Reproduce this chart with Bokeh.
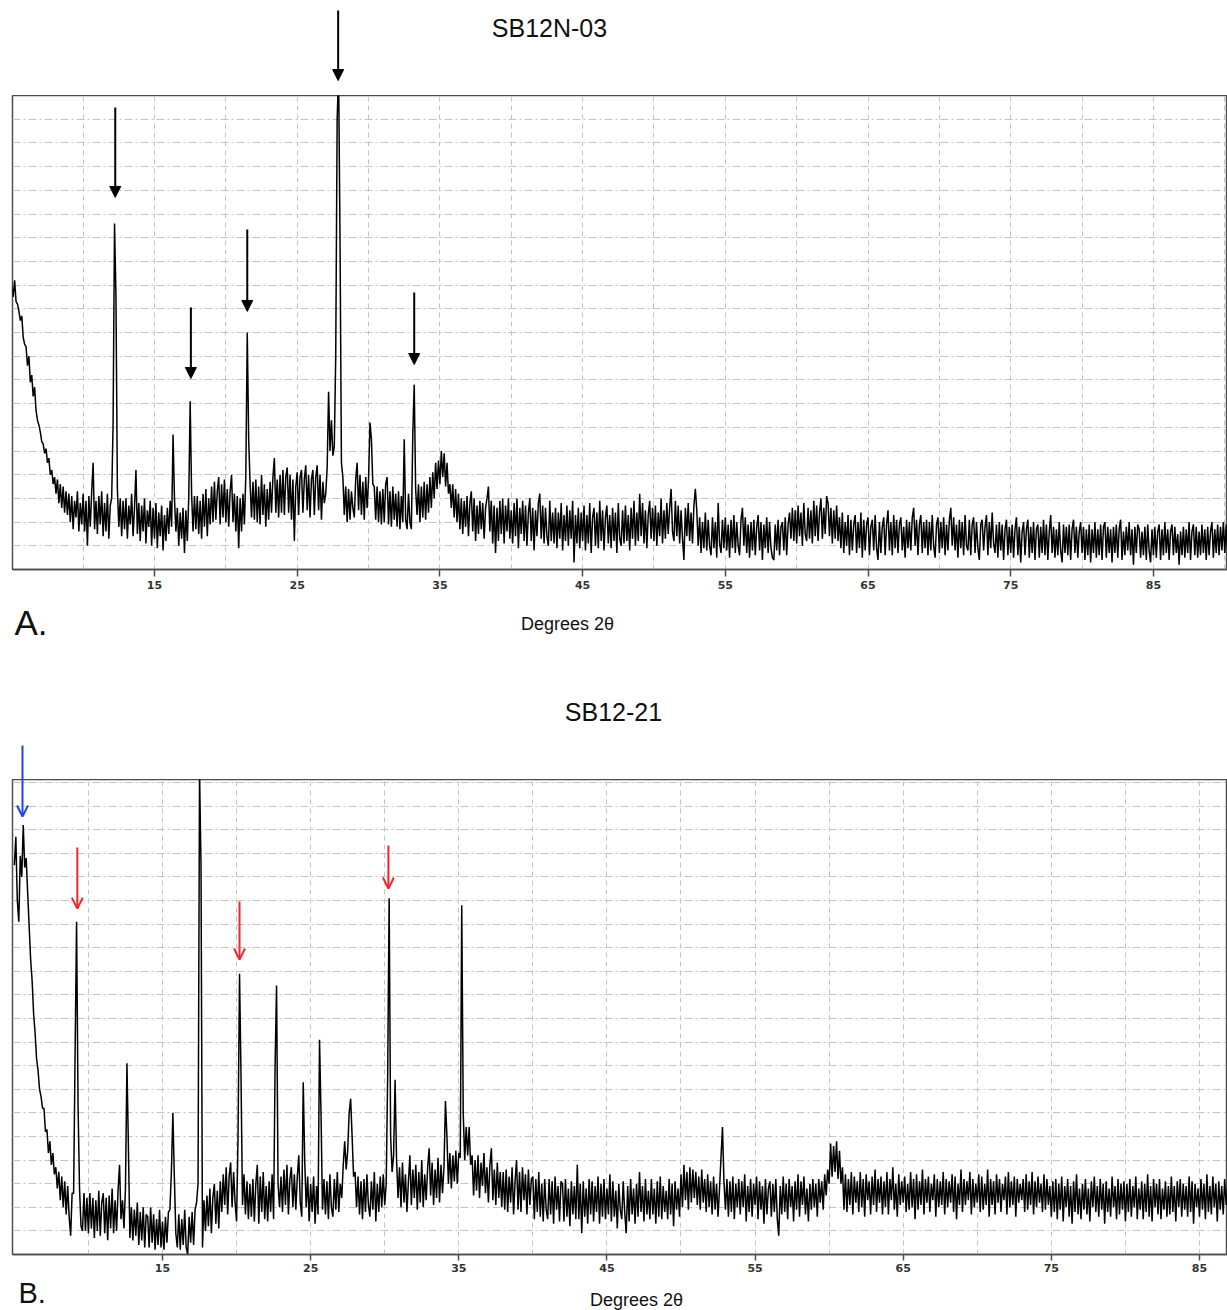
from bokeh.plotting import figure
from bokeh.models import FixedTicker, Label, Arrow, NormalHead, OpenHead, Range1d, ColumnDataSource
from bokeh.layouts import column
from bokeh.embed import file_html
from bokeh.resources import INLINE

# ---------------- DATA ----------------
# Step-scan XRD patterns, intensity in grid units, 0.1 degree steps
A_START = 5.0
B_START = 5.0
STEP = 0.1

title_a = "SB12N-03"
title_b = "SB12-21"
xlabel = "Degrees 2\u03b8"
tick_values = [15, 25, 35, 45, 55, 65, 75, 85]
tick_labels = ["15", "25", "35", "45", "55", "65", "75", "85"]

counts_a = [
    12.0, 11.5, 12.2, 11.3, 11.2, 10.9, 10.5, 10.7, 9.8, 9.5,   # 5
    9.4, 8.6, 9.0, 7.9, 8.2, 7.3, 7.7, 6.7, 6.3, 6.1,           # 6
    5.8, 5.4, 5.3, 4.9, 5.1, 4.5, 4.7, 4.0, 4.2, 3.6,           # 7
    3.9, 3.2, 3.8, 2.8, 3.6, 2.6, 3.5, 2.4, 3.3, 2.3,           # 8
    3.2, 2.0, 3.1, 1.7, 2.9, 2.2, 3.3, 1.6, 2.8, 1.9,           # 9
    3.2, 1.6, 2.9, 1.0, 3.1, 1.8, 3.3, 4.5, 1.7, 2.9,           # 10
    1.5, 3.1, 1.9, 3.3, 1.4, 2.8, 1.6, 3.2, 1.3, 2.7,           # 11
    3.0, 6.2, 14.6, 11.5, 3.4, 1.8, 3.0, 1.4, 2.9, 1.7,         # 12
    3.0, 1.3, 2.7, 1.9, 3.2, 1.4, 2.6, 4.2, 1.5, 2.8,           # 13
    1.2, 2.7, 1.6, 3.0, 1.1, 2.5, 1.8, 2.9, 1.0, 2.6,           # 14
    1.3, 2.8, 0.9, 2.4, 1.4, 2.7, 0.8, 2.3, 1.2, 2.6,           # 15
    1.5, 2.9, 1.8, 5.7, 3.0, 1.6, 2.6, 1.0, 2.4, 1.3,           # 16
    2.6, 0.7, 2.5, 1.2, 3.0, 7.1, 3.2, 1.6, 3.1, 1.7,           # 17
    3.1, 1.5, 2.9, 1.3, 3.2, 1.8, 3.4, 1.4, 3.0, 1.9,           # 18
    3.5, 2.0, 3.7, 2.1, 3.3, 3.9, 1.9, 3.6, 2.2, 3.8,           # 19
    2.0, 3.4, 1.8, 3.3, 4.0, 2.0, 3.2, 1.6, 3.1, 0.9,           # 20
    3.0, 1.6, 3.2, 1.9, 4.0, 10.0, 5.5, 3.6, 2.2, 3.7,          # 21
    2.1, 3.8, 2.0, 3.5, 1.9, 4.0, 2.3, 3.6, 1.8, 3.4,           # 22
    2.1, 3.7, 2.4, 3.9, 4.7, 2.4, 3.8, 2.2, 4.0, 2.4,           # 23
    4.2, 2.3, 3.9, 4.3, 2.4, 4.0, 2.1, 3.8, 1.2, 3.5,           # 24
    4.1, 2.3, 3.9, 4.2, 2.4, 3.8, 4.4, 2.5, 4.0, 2.2,           # 25
    3.8, 4.2, 2.3, 3.9, 4.4, 2.5, 4.0, 2.1, 3.7, 2.8,           # 26
    3.2, 4.3, 7.5, 5.0, 6.3, 4.8, 5.2, 9.0, 19.0, 21.0,         # 27
    14.0, 4.5, 3.9, 2.3, 3.5, 2.0, 3.4, 2.1, 3.3, 2.6,          # 28
    2.2, 3.8, 4.5, 2.5, 4.0, 2.3, 3.7, 2.1, 3.9, 2.6,           # 29
    3.8, 6.2, 5.5, 3.6, 3.5, 2.1, 3.5, 2.0, 3.3, 1.9,           # 30
    3.4, 2.0, 3.6, 3.9, 1.9, 3.3, 1.8, 3.5, 2.1, 3.2,           # 31
    1.8, 3.3, 1.7, 3.1, 2.0, 5.5, 2.1, 1.7, 3.2, 2.0,           # 32
    1.7, 5.7, 7.8, 3.4, 2.3, 3.6, 2.0, 3.5, 2.2, 3.7,           # 33
    2.1, 3.6, 2.4, 3.9, 2.6, 4.1, 3.0, 4.5, 3.4, 4.6,           # 34
    3.6, 5.0, 3.9, 4.9, 3.5, 4.5, 3.2, 3.6, 2.6, 3.6,           # 35
    2.2, 3.4, 2.0, 3.2, 1.7, 3.0, 1.5, 2.9, 1.8, 3.1,           # 36
    1.4, 2.8, 3.3, 1.6, 3.0, 1.2, 2.7, 1.5, 2.9, 1.7,           # 37
    2.8, 1.3, 2.6, 3.0, 3.5, 1.6, 2.9, 1.1, 2.7, 0.7,           # 38
    2.6, 1.2, 2.9, 1.5, 3.0, 1.1, 2.7, 1.6, 3.0, 1.3,           # 39
    2.5, 1.1, 2.8, 1.4, 3.0, 0.9, 2.6, 1.5, 2.9, 1.2,           # 40
    2.7, 1.0, 2.4, 3.0, 1.2, 2.6, 0.8, 2.5, 1.4, 2.8,           # 41
    3.2, 1.3, 2.7, 1.1, 2.6, 1.4, 1.0, 2.9, 1.2, 2.4,           # 42
    1.1, 2.6, 0.9, 2.4, 1.3, 2.8, 0.8, 2.3, 1.2, 2.7,           # 43
    1.0, 2.5, 1.3, 2.9, 0.3, 2.3, 1.1, 2.6, 0.9, 2.4,           # 44
    1.2, 2.7, 0.8, 2.3, 1.1, 2.8, 0.7, 2.2, 2.6, 1.0,           # 45
    2.4, 0.9, 2.9, 1.2, 2.5, 0.8, 2.2, 2.7, 1.1, 2.3,           # 46
    0.9, 2.6, 1.2, 2.4, 0.7, 2.8, 1.3, 1.0, 2.5, 1.1,           # 47
    2.7, 1.2, 2.3, 0.8, 2.6, 1.3, 2.9, 1.0, 2.4, 1.2,           # 48
    3.2, 1.4, 2.8, 1.1, 2.5, 0.9, 2.3, 2.9, 1.3, 2.6,           # 49
    1.2, 2.7, 1.0, 2.4, 1.4, 3.0, 1.1, 2.5, 1.3, 2.8,           # 50
    1.5, 2.6, 3.4, 1.6, 1.2, 2.9, 1.4, 2.7, 1.1, 2.5,           # 51
    1.3, 0.4, 2.6, 1.4, 2.8, 1.2, 2.4, 1.1, 2.7, 3.4,           # 52
    2.5, 1.0, 2.2, 0.7, 2.0, 0.9, 2.4, 0.8, 2.1, 1.0,           # 53
    0.6, 2.2, 0.9, 2.0, 0.5, 2.8, 1.1, 0.7, 2.1, 0.9,           # 54
    2.2, 0.8, 1.9, 0.5, 2.1, 0.9, 2.3, 0.7, 2.0, 1.0,           # 55
    0.6, 2.1, 2.6, 1.0, 2.2, 0.7, 1.9, 0.5, 2.0, 0.8,           # 56
    2.1, 0.6, 1.8, 2.3, 0.8, 2.0, 0.4, 1.9, 0.9, 2.2,           # 57
    0.7, 2.0, 0.9, 0.5, 0.4, 1.9, 0.8, 2.1, 0.6, 1.8,           # 58
    2.0, 0.8, 2.2, 0.6, 1.9, 2.4, 1.3, 2.6, 1.2, 2.5,           # 59
    1.1, 2.7, 1.4, 2.4, 1.0, 2.8, 1.5, 1.2, 2.6, 1.3,           # 60
    2.5, 1.1, 2.9, 1.4, 2.7, 1.2, 2.4, 3.0, 1.3, 2.6,           # 61
    1.5, 3.1, 2.8, 1.4, 2.6, 1.1, 2.5, 1.3, 2.7, 1.2,           # 62
    2.2, 0.9, 2.4, 0.7, 2.0, 1.0, 2.3, 0.6, 2.1, 0.8,           # 63
    1.9, 2.3, 0.7, 2.0, 0.9, 2.4, 0.5, 2.1, 0.8, 1.9,           # 64
    2.2, 0.6, 1.8, 2.1, 0.8, 2.3, 0.9, 0.4, 2.0, 0.7,           # 65
    1.8, 2.2, 0.6, 1.9, 2.5, 0.8, 2.0, 0.6, 2.3, 0.9,           # 66
    2.1, 0.7, 1.9, 2.2, 0.8, 1.8, 0.5, 2.1, 0.9, 2.0,           # 67
    0.8, 2.2, 2.6, 1.0, 2.1, 0.6, 1.9, 2.3, 0.7, 2.0,           # 68
    0.9, 2.1, 0.6, 2.0, 0.8, 2.3, 1.0, 0.5, 1.9, 2.2,           # 69
    0.7, 2.0, 0.9, 2.2, 0.6, 1.9, 0.8, 2.1, 2.6, 1.0,           # 70
    2.2, 0.8, 1.9, 0.5, 2.1, 0.9, 2.0, 0.6, 2.3, 1.0,           # 71
    0.8, 2.1, 0.6, 1.9, 2.2, 0.7, 2.0, 0.9, 0.4, 1.9,           # 72
    2.1, 0.8, 1.8, 2.3, 0.6, 2.0, 0.9, 2.4, 1.1, 0.7,           # 73
    1.9, 0.5, 2.0, 0.8, 1.9, 0.4, 1.7, 2.1, 0.6, 1.8,           # 74
    0.7, 1.9, 0.5, 1.7, 2.2, 0.6, 1.8, 0.3, 1.6, 2.0,           # 75
    0.6, 1.7, 2.1, 0.5, 1.8, 0.7, 2.0, 0.4, 1.7, 1.9,           # 76
    0.5, 1.8, 0.7, 2.1, 0.6, 1.9, 0.4, 1.6, 2.3, 0.7,           # 77
    1.8, 0.5, 1.7, 0.6, 2.0, 0.8, 0.3, 1.9, 0.7, 1.8,           # 78
    0.6, 1.9, 0.4, 1.7, 2.1, 0.7, 1.8, 0.5, 1.6, 2.0,           # 79
    0.7, 1.8, 0.4, 1.7, 0.6, 1.9, 0.3, 1.7, 0.7, 2.0,           # 80
    0.5, 1.7, 0.6, 1.9, 0.4, 1.8, 2.0, 0.5, 1.8, 0.7,           # 81
    1.7, 0.3, 1.8, 0.7, 1.9, 0.5, 1.7, 2.1, 0.4, 1.6,           # 82
    0.6, 1.8, 0.8, 2.0, 0.6, 1.7, 0.2, 1.8, 0.7, 1.9,           # 83
    1.7, 0.5, 1.6, 0.6, 1.8, 0.4, 1.9, 0.8, 0.3, 1.7,           # 84
    0.6, 1.8, 0.5, 1.6, 1.9, 0.4, 1.7, 0.6, 2.0, 0.7,           # 85
    1.7, 0.4, 1.6, 1.9, 0.6, 1.8, 0.7, 1.5, 0.2, 1.6,           # 86
    0.6, 1.8, 0.5, 1.7, 0.7, 2.0, 0.4, 1.6, 1.9, 0.6,           # 87
    1.8, 0.5, 1.6, 0.6, 1.9, 0.7, 1.7, 0.4, 1.8, 0.6,           # 88
    1.6, 2.0, 0.5, 1.7, 0.7, 1.9, 0.6, 1.8, 0.8, 2.0,           # 89
    0.7, 1.9, 0.8,                                              # 90
]

counts_b = [
    16.5, 17.7, 15.0, 14.1, 16.9, 16.0, 18.2, 16.4, 16.8, 15.3,  # 5
    13.9, 12.5, 11.6, 10.2, 9.4, 8.3, 7.8, 7.0, 6.7, 6.2,        # 6
    6.2, 5.2, 5.3, 4.3, 4.8, 3.8, 4.3, 3.4, 3.7, 2.8,            # 7
    3.5, 2.3, 3.3, 2.0, 3.1, 1.7, 2.9, 1.6, 0.8, 2.6,            # 8
    2.6, 8.5, 14.1, 6.3, 2.8, 1.2, 1.0, 2.6, 1.0, 2.4,           # 9
    0.9, 2.6, 1.1, 2.4, 0.7, 2.3, 1.0, 2.7, 0.8, 2.2,            # 10
    2.6, 0.9, 2.4, 0.6, 2.5, 1.1, 2.8, 0.9, 2.3, 1.0,            # 11
    2.7, 3.8, 1.5, 2.3, 1.1, 2.8, 8.1, 4.5, 0.7, 2.0,            # 12
    0.6, 1.9, 0.8, 2.2, 0.4, 1.8, 0.6, 2.0, 0.3, 1.7,            # 13
    1.6, 0.3, 2.0, 0.5, 1.7, 0.2, 1.5, 0.4, 1.9, 0.3,            # 14
    1.4, 0.2, 1.6, 0.5, 1.8, 1.9, 3.5, 6.0, 3.3, 0.9,            # 15
    0.3, 1.7, 0.2, 1.5, 0.4, 1.9, 0.3, 0.0, 1.6, 0.5,            # 16
    1.8, 0.4, 1.9, 2.2, 3.0, 20.5, 16.5, 0.3, 2.3, 1.0,          # 17
    2.5, 1.2, 2.8, 0.9, 2.4, 3.0, 1.3, 2.7, 1.1, 3.1,            # 18
    1.8, 3.4, 2.1, 3.7, 1.7, 3.3, 3.9, 2.0, 3.5, 2.2,            # 19
    1.4, 5.0, 11.9, 7.6, 2.1, 3.4, 1.7, 3.1, 1.5, 3.0,           # 20
    1.6, 3.2, 1.4, 3.0, 3.8, 1.3, 3.3, 1.8, 3.5, 1.5,            # 21
    2.9, 1.4, 3.1, 1.8, 3.4, 1.5, 8.0, 11.4, 3.0, 2.0,           # 22
    3.3, 1.8, 3.6, 2.1, 3.8, 1.7, 3.2, 3.7, 2.0, 3.4,            # 23
    1.9, 3.3, 4.2, 2.2, 1.6, 7.3, 4.0, 2.0, 3.3, 1.4,            # 24
    3.0, 1.8, 3.3, 1.3, 2.9, 1.7, 9.1, 6.0, 1.9, 3.2,            # 25
    1.7, 3.1, 1.5, 3.4, 2.0, 1.6, 3.2, 1.9, 3.5, 1.8,            # 26
    3.0, 2.4, 3.8, 4.8, 3.6, 4.4, 6.0, 6.6, 5.0, 3.3,            # 27
    3.5, 2.0, 3.3, 1.7, 3.1, 1.5, 3.2, 1.8, 3.4, 2.1,            # 28
    1.6, 3.1, 1.9, 3.5, 1.4, 3.0, 1.8, 3.3, 2.0, 3.4,            # 29
    2.1, 3.0, 7.6, 15.1, 5.0, 3.5, 4.2, 7.4, 4.0, 2.4,           # 30
    3.7, 2.0, 3.9, 2.2, 3.4, 1.8, 3.1, 4.2, 2.1, 3.6,            # 31
    2.4, 3.8, 1.9, 3.5, 2.2, 4.0, 2.0, 3.4, 2.3, 3.7,            # 32
    4.5, 2.5, 3.9, 2.1, 3.6, 2.4, 4.1, 2.2, 3.8, 2.6,            # 33
    3.7, 6.5, 5.0, 3.0, 4.3, 2.8, 4.2, 3.1, 4.4, 3.0,            # 34
    4.3, 4.1, 14.8, 6.0, 4.0, 5.4, 4.2, 5.4, 3.8, 4.2,           # 35
    2.5, 4.0, 2.7, 4.2, 2.4, 3.9, 2.9, 4.3, 2.6, 3.7,            # 36
    2.2, 3.8, 4.5, 2.3, 3.6, 2.1, 3.9, 2.4, 3.5, 2.0,            # 37
    3.5, 1.9, 3.6, 1.8, 3.3, 2.2, 3.7, 1.7, 3.1, 4.0,            # 38
    1.9, 3.5, 1.8, 3.7, 2.3, 3.4, 1.7, 3.6, 2.1, 3.2,            # 39
    3.3, 1.5, 3.2, 1.8, 3.5, 1.6, 3.0, 1.4, 3.2, 1.9,            # 40
    1.5, 3.2, 1.7, 3.1, 1.3, 3.3, 1.9, 2.9, 1.4, 3.1,            # 41
    3.0, 1.4, 3.2, 1.6, 2.8, 1.2, 3.1, 1.7, 2.9, 1.5,            # 42
    3.8, 1.5, 3.0, 0.9, 3.1, 1.6, 2.8, 1.3, 3.2, 1.7,            # 43
    3.1, 1.4, 2.9, 1.8, 3.3, 1.3, 3.0, 1.6, 3.2, 1.5,            # 44
    2.8, 1.7, 3.4, 1.4, 3.1, 1.6, 2.7, 1.1, 3.0, 1.9,            # 45
    1.5, 3.1, 1.8, 0.9, 2.9, 1.4, 3.2, 1.7, 2.8, 1.3,            # 46
    3.0, 1.6, 3.5, 1.8, 2.9, 1.4, 3.2, 1.7, 2.7, 1.5,            # 47
    3.2, 1.7, 2.8, 1.3, 3.1, 1.6, 3.3, 1.5, 2.9, 1.8,            # 48
    2.7, 1.5, 3.2, 1.7, 3.0, 1.2, 3.1, 1.9, 2.8, 1.6,            # 49
    3.4, 2.0, 3.8, 2.3, 3.5, 1.9, 3.7, 2.2, 3.6, 2.4,            # 50
    3.5, 2.1, 3.3, 1.9, 3.6, 2.2, 3.2, 1.8, 3.4, 2.0,            # 51
    3.1, 1.7, 3.3, 1.9, 3.0, 1.6, 2.8, 4.1, 5.4, 3.1,            # 52
    1.9, 3.2, 1.6, 3.1, 1.8, 3.3, 1.5, 3.0, 2.0, 3.2,            # 53
    1.7, 3.1, 2.0, 3.4, 1.4, 2.9, 1.8, 3.2, 1.6, 3.0,            # 54
    2.1, 3.3, 1.5, 3.1, 1.9, 2.9, 1.3, 3.2, 1.7, 2.8,            # 55
    3.1, 1.6, 3.0, 1.8, 3.2, 1.5, 0.8, 2.9, 1.7, 3.3,            # 56
    1.8, 3.0, 1.5, 3.2, 2.0, 2.9, 1.4, 3.1, 1.9, 3.4,            # 57
    1.6, 3.1, 2.1, 3.3, 1.7, 2.8, 1.4, 3.0, 1.9, 3.2,            # 58
    2.0, 3.0, 1.6, 3.2, 2.2, 3.1, 1.9, 3.4, 2.5, 3.6,            # 59
    3.0, 4.7, 3.3, 4.6, 3.5, 4.8, 3.2, 4.4, 3.0, 3.7,            # 60
    1.9, 3.4, 1.8, 3.2, 2.1, 3.5, 1.7, 3.3, 2.2, 3.1,            # 61
    1.8, 3.5, 2.0, 3.2, 1.6, 3.4, 2.3, 3.1, 1.7, 3.3,            # 62
    2.1, 3.6, 1.8, 3.2, 2.2, 3.3, 1.7, 3.1, 2.0, 3.5,            # 63
    1.7, 3.2, 2.3, 3.7, 1.9, 3.0, 1.6, 3.4, 2.1, 3.1,            # 64
    2.2, 3.3, 1.8, 3.0, 1.9, 3.5, 2.0, 3.2, 1.5, 3.4,            # 65
    1.9, 3.1, 2.1, 3.6, 1.7, 3.2, 2.2, 3.3, 1.8, 3.0,            # 66
    2.3, 3.4, 1.6, 3.2, 2.0, 3.1, 2.1, 3.5, 1.7, 3.2,            # 67
    2.0, 3.1, 2.2, 3.4, 1.8, 3.3, 1.5, 3.0, 2.1, 3.6,            # 68
    1.8, 3.2, 2.1, 3.1, 2.3, 3.5, 1.7, 3.2, 2.0, 3.0,            # 69
    2.2, 3.4, 1.8, 3.3, 1.9, 3.0, 2.1, 3.6, 1.6, 3.2,            # 70
    2.1, 3.1, 1.7, 3.4, 2.2, 3.2, 1.8, 3.0, 2.3, 3.3,            # 71
    1.7, 3.5, 2.0, 3.1, 2.1, 3.3, 1.6, 3.2, 2.2, 3.0,            # 72
    2.3, 3.2, 1.8, 3.4, 1.9, 3.1, 2.1, 3.5, 1.7, 3.1,            # 73
    2.0, 3.3, 2.2, 3.0, 1.8, 3.4, 1.9, 3.2, 2.1, 2.9,            # 74
    1.6, 3.1, 1.8, 3.2, 1.5, 3.0, 1.9, 3.3, 1.4, 2.9,            # 75
    2.0, 3.2, 1.6, 2.9, 1.3, 3.1, 1.8, 3.4, 1.7, 2.8,            # 76
    1.5, 3.0, 1.9, 3.2, 1.7, 2.8, 1.4, 3.1, 2.0, 3.3,            # 77
    1.8, 2.9, 1.6, 3.2, 1.9, 3.0, 1.3, 3.1, 1.8, 2.8,            # 78
    1.6, 3.3, 2.0, 2.9, 1.5, 3.2, 1.7, 3.0, 1.9, 3.1,            # 79
    1.4, 3.0, 1.8, 3.2, 1.6, 2.9, 2.0, 3.3, 1.5, 2.8,            # 80
    1.9, 3.1, 1.5, 3.0, 1.8, 3.4, 1.6, 2.9, 1.4, 3.2,            # 81
    2.0, 3.0, 1.7, 3.2, 1.5, 2.8, 1.9, 3.1, 1.6, 2.9,            # 82
    1.7, 3.3, 1.8, 2.9, 1.4, 3.1, 2.0, 3.2, 1.6, 3.0,            # 83
    1.9, 2.9, 1.6, 3.3, 1.8, 3.1, 1.3, 3.0, 2.0, 2.8,            # 84
    1.6, 3.2, 1.9, 3.0, 1.5, 3.4, 1.8, 2.9, 1.7, 3.3,            # 85
    2.0, 3.0, 1.4, 3.1, 1.9, 2.9, 1.7, 3.2, 2.1, 2.8,            # 86
]

# marker arrows: x position (deg 2theta), tail and tip heights (grid units)
arrow_a_x = [12.25, 17.55, 21.5, 27.87, 33.2]
arrow_a_tail = [19.49, 11.05, 14.35, 23.59, 11.69]
arrow_a_tip = [15.70, 8.06, 10.89, 20.63, 8.65]

arrow_b_x = [5.55, 9.25, 20.2, 30.25]
arrow_b_tail = [21.57, 17.25, 14.96, 17.33]
arrow_b_tip = [18.56, 14.66, 12.50, 15.51]
arrow_b_color = ["#2340f0", "#f0262b", "#f0262b", "#f0262b"]

# ---------------- GEOMETRY ----------------
FRAME_W = 1215
LEFT = 12
A_TOP, A_FRAME_H, A_AXIS_H = 95, 474, 28
B_TOP, B_FRAME_H, B_AXIS_H = 89, 475, 22
A_TOTAL, B_TOTAL = 690, 620
A_UNIT = A_FRAME_H / 20.0
B_YMAX = 20.13
B_UNIT = B_FRAME_H / B_YMAX

xr_a = Range1d(5.05, 90.19)
xr_b = Range1d(4.875, 86.89)


def blank(xr, yr, h):
    p = figure(frame_width=FRAME_W, frame_height=h, min_border=0, min_border_left=LEFT,
               min_border_right=0, x_range=xr, y_range=yr, x_axis_location=None,
               y_axis_location=None, output_backend="svg", toolbar_location=None)
    p.outline_line_color = None
    p.grid.visible = False
    return p


def style_panel(p, grid_top, tick_out, standoff):
    p.outline_line_color = "#4d4d4d"
    p.outline_line_width = 1.5
    p.yaxis.visible = False
    p.xaxis.ticker = FixedTicker(ticks=tick_values)
    p.xaxis.major_label_overrides = {v: s for v, s in zip(tick_values, tick_labels)}
    p.xaxis.major_label_text_font = "DejaVu Sans"
    p.xaxis.major_label_text_font_style = "bold"
    p.xaxis.major_label_text_font_size = "11px"
    p.xaxis.major_label_text_color = "#333333"
    p.xaxis.major_label_standoff = standoff
    p.xaxis.major_tick_in = 0
    p.xaxis.major_tick_out = tick_out
    p.xaxis.major_tick_line_color = "#4d4d4d"
    p.xaxis.major_tick_line_width = 1.5
    p.xaxis.minor_tick_line_color = None
    p.xaxis.axis_line_color = "#4d4d4d"
    p.xaxis.axis_line_width = 1.5
    p.xgrid.ticker = FixedTicker(ticks=list(range(10, 91, 5)))
    p.xgrid.grid_line_color = "#c4c4c4"
    p.xgrid.grid_line_dash = "5 4"
    p.ygrid.ticker = FixedTicker(ticks=list(range(1, grid_top + 1)))
    p.ygrid.grid_line_color = "#c4c4c4"
    p.ygrid.grid_line_dash = "8 3 2 3"


def main_fig(xr, ymax, h, bottom):
    return figure(frame_width=FRAME_W, frame_height=h, min_border=0, min_border_left=LEFT,
                  min_border_right=0, min_border_top=0, min_border_bottom=bottom,
                  x_range=xr, y_range=Range1d(0, ymax),
                  output_backend="svg", toolbar_location=None)


def txt(p, x, y, s, size, align="center"):
    p.add_layout(Label(x=x, y=y, text=s, text_align=align, text_baseline="middle",
                       text_font="Liberation Sans", text_font_size=size, text_color="#111111"))


# ---------------- PANEL A ----------------
head_a = blank(xr_a, Range1d(20.0, 20.0 + A_TOP / A_UNIT), A_TOP)
pa = main_fig(xr_a, 20.0, A_FRAME_H, A_AXIS_H)
foot_h_a = A_TOTAL - A_TOP - A_FRAME_H - A_AXIS_H
foot_a = blank(xr_a, Range1d(-(A_AXIS_H + foot_h_a) / A_UNIT, -A_AXIS_H / A_UNIT), foot_h_a)
style_panel(pa, 19, 7, 4)

xa = [round(A_START + i * STEP, 2) for i in range(len(counts_a))]
pa.line(x="x", y="y", source=ColumnDataSource(dict(x=xa, y=counts_a)),
        line_color="black", line_width=1.5)
for x, y0, y1 in zip(arrow_a_x, arrow_a_tail, arrow_a_tip):
    target = head_a if y1 >= 20.0 else pa
    target.add_layout(Arrow(x_start=x, y_start=y0, x_end=x, y_end=y1, line_width=2,
                            line_color="black",
                            end=NormalHead(size=11, fill_color="black", line_color="black")))
txt(head_a, 42.68, 22.83, title_a, "25px")
txt(foot_a, 43.94, -2.28, xlabel, "18px")
txt(foot_a, 5.19, -2.24, "A.", "35px", "left")

# ---------------- PANEL B ----------------
head_b = blank(xr_b, Range1d(B_YMAX, B_YMAX + B_TOP / B_UNIT), B_TOP)
pb = main_fig(xr_b, B_YMAX, B_FRAME_H, B_AXIS_H)
foot_h_b = B_TOTAL - B_TOP - B_FRAME_H - B_AXIS_H
foot_b = blank(xr_b, Range1d(-(B_AXIS_H + foot_h_b) / B_UNIT, -B_AXIS_H / B_UNIT), foot_h_b)
style_panel(pb, 20, 6, 3)

xb = [round(B_START + i * STEP, 2) for i in range(len(counts_b))]
pb.line(x="x", y="y", source=ColumnDataSource(dict(x=xb, y=counts_b)),
        line_color="black", line_width=1.5)
for x, y0, y1, c in zip(arrow_b_x, arrow_b_tail, arrow_b_tip, arrow_b_color):
    if y0 > B_YMAX:
        # shaft part above the frame lives in the header strip
        head_b.add_layout(Arrow(x_start=x, y_start=y0, x_end=x, y_end=B_YMAX, line_width=2,
                                line_color=c, end=None))
        y0 = B_YMAX
    pb.add_layout(Arrow(x_start=x, y_start=y0, x_end=x, y_end=y1, line_width=2, line_color=c,
                        end=OpenHead(size=11, line_color=c, line_width=2)))
txt(head_b, 45.44, 22.97, title_b, "25px")
txt(foot_b, 47.0, -1.91, xlabel, "18px")
txt(foot_b, 5.28, -1.65, "B.", "29px", "left")

layout = column(head_a, pa, foot_a, head_b, pb, foot_b, spacing=0)
open("out.html", "w").write(file_html(layout, INLINE))
